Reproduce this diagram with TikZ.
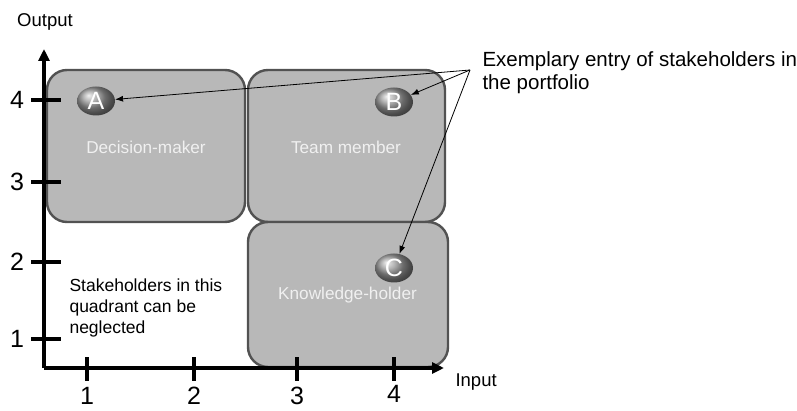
\documentclass[tikz,border=0pt]{standalone}
\usepackage{fontspec}
\setmainfont{Liberation Sans}
\usetikzlibrary{arrows.meta,shapes.geometric}
\begin{document}
\begin{tikzpicture}[x=1pt,y=-1pt,
  quad/.style={draw=black!68, line width=2.4pt, fill=black!28,
    rounded corners=20pt, inner sep=0pt},
  quadlabel/.style={text=white!94!black, font=\fontsize{17.2}{20}\selectfont},
  entry/.style={ellipse, inner sep=0pt, minimum width=38pt, minimum height=29pt,
    shade, ball color=black!40, text=white,
    font=\fontsize{25}{28}\selectfont},
  axis/.style={line width=3.4pt, -{Triangle[length=12pt,width=11pt]}},
  tick/.style={line width=3.4pt},
  ticklabel/.style={font=\fontsize{25}{28}\selectfont},
  axislabel/.style={font=\fontsize{18.5}{21}\selectfont},
  note/.style={font=\fontsize{17.5}{21}\selectfont, align=left},
  pointer/.style={line width=0.8pt, -{Latex[length=8pt,width=6pt]}}]
\useasboundingbox (0,0) rectangle (797,411);

% quadrant boxes
\node[quad, minimum width=198pt, minimum height=152pt] (dm) at (146,146) {};
\node[quad, minimum width=197pt, minimum height=152pt] (tm) at (346.5,146) {};
\node[quad, minimum width=200pt, minimum height=145pt] (kh) at (348,294.5) {};

\node[quadlabel] (dml) at (146,147) {Decision-maker};
\node[quadlabel] (tml) at (346,147) {Team member};
\node[quadlabel] (khl) at (347.5,295) {Knowledge-holder};

% axes
\coordinate (o) at (44,368);
\coordinate (ytop) at (44,49);
\coordinate (xend) at (444,368);
\draw[axis] (o) -- (ytop);
\draw[axis] (o) -- (xend);

% y ticks
\foreach \v/\y in {4/100,3/182,2/262,1/339}{
  \coordinate (yt\v a) at (31,\y);
  \coordinate (yt\v b) at (61,\y);
  \draw[tick] (yt\v a) -- (yt\v b);
  \node[ticklabel] (yl\v) at (17,\y) {\v};
}
% x ticks, labels set on their baselines near the lower edge
\foreach \v/\x/\ly in {1/87/404,2/194/404,3/297/404,4/394/402}{
  \coordinate (xt\v a) at (\x,357);
  \coordinate (xt\v b) at (\x,381);
  \draw[tick] (xt\v a) -- (xt\v b);
  \node[ticklabel, inner sep=0pt, anchor=base] (xl\v) at (\x,\ly) {\v};
}

\node[axislabel] (outl) at (45,22) {Output};
\node[axislabel, anchor=west] (inl) at (452,382) {Input};

% stakeholder entries
\node[entry] (A) at (96,101) {A};
\node[entry] (B) at (394,102) {B};
\node[entry] (C) at (394,268) {C};

% note and pointers (base anchor sits on the last line)
\node[note, anchor=base west] (neg) at (66,334)
  {Stakeholders in this\\quadrant can be\\neglected};
\node[font=\fontsize{20.5}{23}\selectfont, align=left, anchor=base west] (ex) at (479,90)
  {Exemplary entry of stakeholders in\\the portfolio};
\coordinate (apex) at (470,70);
\draw[pointer] (apex) -- (A);
\draw[pointer] (apex) -- (B);
\draw[pointer] (apex) -- (C);
\end{tikzpicture}
\end{document}
